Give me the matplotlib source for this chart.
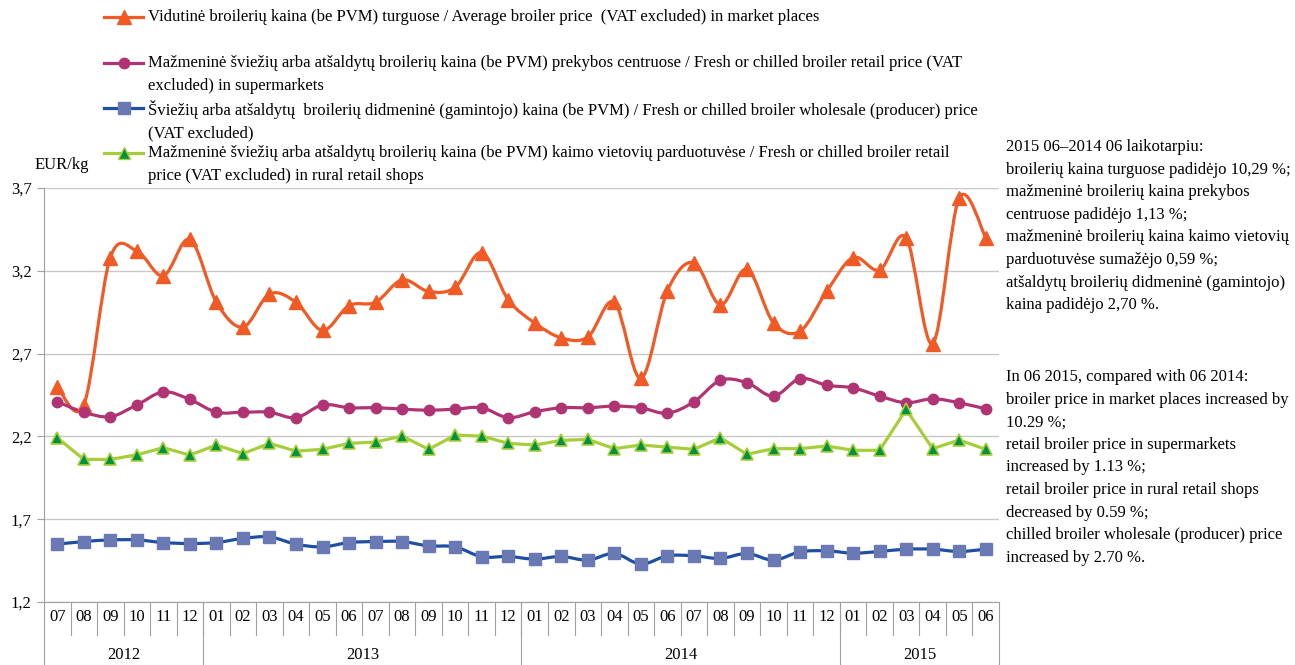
import numpy as np
import matplotlib
matplotlib.use("Agg")
import matplotlib.pyplot as plt
from matplotlib.path import Path
from matplotlib.patches import PathPatch
from matplotlib.lines import Line2D
from matplotlib.ticker import FuncFormatter

plt.rcParams['font.family'] = ['Liberation Serif', 'DejaVu Serif']

# Monthly broiler prices, EUR/kg, 2012-07 .. 2015-06
months = ['07', '08', '09', '10', '11', '12'] + \
         ['01', '02', '03', '04', '05', '06', '07', '08', '09', '10', '11', '12'] * 2 + \
         ['01', '02', '03', '04', '05', '06']
years = ['2012', '2013', '2014', '2015']
year_lengths = [6, 12, 12, 6]

market = [2.50, 2.39, 3.28, 3.32, 3.17, 3.39, 3.01, 2.86, 3.06, 3.01, 2.84, 2.99,
          3.01, 3.145, 3.075, 3.10, 3.31, 3.025, 2.885, 2.795, 2.80, 3.01, 2.55, 3.08,
          3.25, 2.995, 3.21, 2.885, 2.835, 3.075, 3.28, 3.205, 3.40, 2.76, 3.64, 3.40]
supermarket = [2.41, 2.346, 2.319, 2.39, 2.469, 2.423, 2.346, 2.346, 2.346, 2.313, 2.39, 2.373,
               2.373, 2.365, 2.358, 2.365, 2.373, 2.313, 2.349, 2.373, 2.373, 2.383, 2.373, 2.34,
               2.409, 2.539, 2.524, 2.443, 2.549, 2.509, 2.493, 2.443, 2.403, 2.427, 2.403, 2.366]
wholesale = [1.549, 1.565, 1.575, 1.575, 1.559, 1.553, 1.559, 1.584, 1.593, 1.549, 1.533, 1.559,
             1.565, 1.565, 1.539, 1.533, 1.473, 1.475, 1.459, 1.475, 1.453, 1.493, 1.429, 1.479,
             1.479, 1.463, 1.493, 1.453, 1.503, 1.509, 1.495, 1.505, 1.519, 1.519, 1.505, 1.519]
rural = [2.192, 2.061, 2.061, 2.089, 2.132, 2.087, 2.148, 2.096, 2.158, 2.111, 2.122, 2.158,
         2.166, 2.202, 2.122, 2.208, 2.202, 2.158, 2.148, 2.176, 2.182, 2.126, 2.148, 2.135,
         2.122, 2.192, 2.092, 2.126, 2.126, 2.142, 2.116, 2.116, 2.363, 2.126, 2.178, 2.122]

labels = [
    "Vidutinė broilerių kaina (be PVM) turguose / Average broiler price  (VAT excluded) in market places",
    "Mažmeninė šviežių arba atšaldytų broilerių kaina (be PVM) prekybos centruose / Fresh or chilled broiler retail price (VAT\nexcluded) in supermarkets",
    "Šviežių arba atšaldytų  broilerių didmeninė (gamintojo) kaina (be PVM) / Fresh or chilled broiler wholesale (producer) price\n(VAT excluded)",
    "Mažmeninė šviežių arba atšaldytų broilerių kaina (be PVM) kaimo vietovių parduotuvėse / Fresh or chilled broiler retail\nprice (VAT excluded) in rural retail shops",
]

note_lt = ("2015 06–2014 06 laikotarpiu:\n"
           "broilerių kaina turguose padidėjo 10,29 %;\n"
           "mažmeninė broilerių kaina prekybos\n"
           "centruose padidėjo 1,13 %;\n"
           "mažmeninė broilerių kaina kaimo vietovių\n"
           "parduotuvėse sumažėjo 0,59 %;\n"
           "atšaldytų broilerių didmeninė (gamintojo)\n"
           "kaina padidėjo 2,70 %.")
note_en = ("In 06 2015, compared with 06 2014:\n"
           "broiler price in market places increased by\n"
           "10.29 %;\n"
           "retail broiler price in supermarkets\n"
           "increased by 1.13 %;\n"
           "retail broiler price in rural retail shops\n"
           "decreased by 0.59 %;\n"
           "chilled broiler wholesale (producer) price\n"
           "increased by 2.70 %.")

ORANGE = '#F15A24'
MAGENTA = '#B03473'
BLUE = '#1D4FA3'
BLUE_MK = '#6A79B4'
LIME = '#A8CD3A'
DGREEN = '#00923F'
GRID = '#C8C8C8'
AXIS = '#A0A0A0'
FS = 12
LS = 1.55


def smooth_path(x, y):
    # cubic Bezier segments through every point (Catmull-Rom style tangents)
    pts = np.column_stack([x, y])
    ext = np.vstack([pts[0], pts, pts[-1]])
    verts = [pts[0]]
    codes = [Path.MOVETO]
    for k in range(1, len(ext) - 2):
        p0, p1, p2, p3 = ext[k - 1], ext[k], ext[k + 1], ext[k + 2]
        verts += [p1 + (p2 - p0) / 6.0, p2 - (p3 - p1) / 6.0, p2]
        codes += [Path.CURVE4] * 3
    return Path(verts, codes)


fig = plt.figure(figsize=(12.95, 6.65), dpi=100)
ax = fig.add_axes([44 / 1295, 1 - 602 / 665, (999 - 44) / 1295, (602 - 188) / 665])

x = np.arange(len(months)) + 0.5

# smoothed series
for vals, col in [(market, ORANGE), (supermarket, MAGENTA), (wholesale, BLUE)]:
    ax.add_patch(PathPatch(smooth_path(x, vals), facecolor='none', edgecolor=col,
                           lw=2.3, zorder=3, capstyle='round', joinstyle='round'))
ax.plot(x, rural, color=LIME, lw=2.3, zorder=3)

ax.plot(x, market, ls='none', marker='^', ms=10, color=ORANGE, zorder=4)
ax.plot(x, supermarket, ls='none', marker='o', ms=7.5, color=MAGENTA, zorder=4)
ax.plot(x, wholesale, ls='none', marker='s', ms=8.5, color=BLUE_MK, zorder=4)
ax.plot(x, rural, ls='none', marker='^', ms=9, color=DGREEN, mec=LIME, mew=1.2, zorder=4)

ax.set_xlim(0, len(months))
ax.set_ylim(1.2, 3.7)
ax.set_yticks([1.2, 1.7, 2.2, 2.7, 3.2, 3.7])
ax.yaxis.set_major_formatter(FuncFormatter(lambda v, p: f"{v:.1f}".replace('.', ',')))
ax.tick_params(axis='y', labelsize=FS, length=5, color=AXIS, pad=4)
ax.set_xticks([])
ax.grid(axis='y', color=GRID, lw=1)
ax.set_axisbelow(True)
for s in ['top', 'right']:
    ax.spines[s].set_visible(False)
ax.spines['left'].set_color(AXIS)
ax.spines['bottom'].set_color(AXIS)

# two-level category axis
tr = ax.get_xaxis_transform()
h = 414.0
for i, m in enumerate(months):
    ax.text(i + 0.5, -15 / h, m, transform=tr, ha='center', va='center', fontsize=FS)
for b in range(1, len(months)):
    ax.plot([b, b], [0, -33 / h], transform=tr, color=AXIS, lw=0.8, clip_on=False)
edges = np.concatenate([[0], np.cumsum(year_lengths)])
for e in edges:
    ax.plot([e, e], [0, -63 / h], transform=tr, color=AXIS, lw=0.8, clip_on=False)
for k, yr in enumerate(years):
    ax.text((edges[k] + edges[k + 1]) / 2, -53 / h, yr, transform=tr,
            ha='center', va='center', fontsize=FS)

fig.text(35 / 1295, 1 - 165 / 665, "EUR/kg", fontsize=FS, va='center', ha='left')

# legend drawn by hand
handles = [
    dict(color=ORANGE, marker='^', ms=10, mfc=ORANGE, mec=ORANGE),
    dict(color=MAGENTA, marker='o', ms=7.5, mfc=MAGENTA, mec=MAGENTA),
    dict(color=BLUE, marker='s', ms=8.5, mfc=BLUE_MK, mec=BLUE_MK),
    dict(color=LIME, marker='^', ms=9, mfc=DGREEN, mec=LIME),
]
rows = [17, 63, 108, 153]
for hd, lab, yy in zip(handles, labels, rows):
    fy = 1 - yy / 665
    fig.add_artist(Line2D([104 / 1295, 143 / 1295], [fy, fy], lw=2.3, color=hd['color'],
                          transform=fig.transFigure))
    fig.add_artist(Line2D([123.5 / 1295], [fy], marker=hd['marker'], ms=hd['ms'],
                          mfc=hd['mfc'], mec=hd['mec'], ls='none', transform=fig.transFigure))
    fig.text(148 / 1295, 1 - (yy - 8) / 665, lab, fontsize=FS, va='top', ha='left',
             linespacing=LS)

fig.text(1006 / 1295, 1 - 139 / 665, note_lt, fontsize=FS, va='top', ha='left', linespacing=LS)
fig.text(1006 / 1295, 1 - 369 / 665, note_en, fontsize=FS, va='top', ha='left', linespacing=LS)

fig.savefig("out.png", dpi=100)
